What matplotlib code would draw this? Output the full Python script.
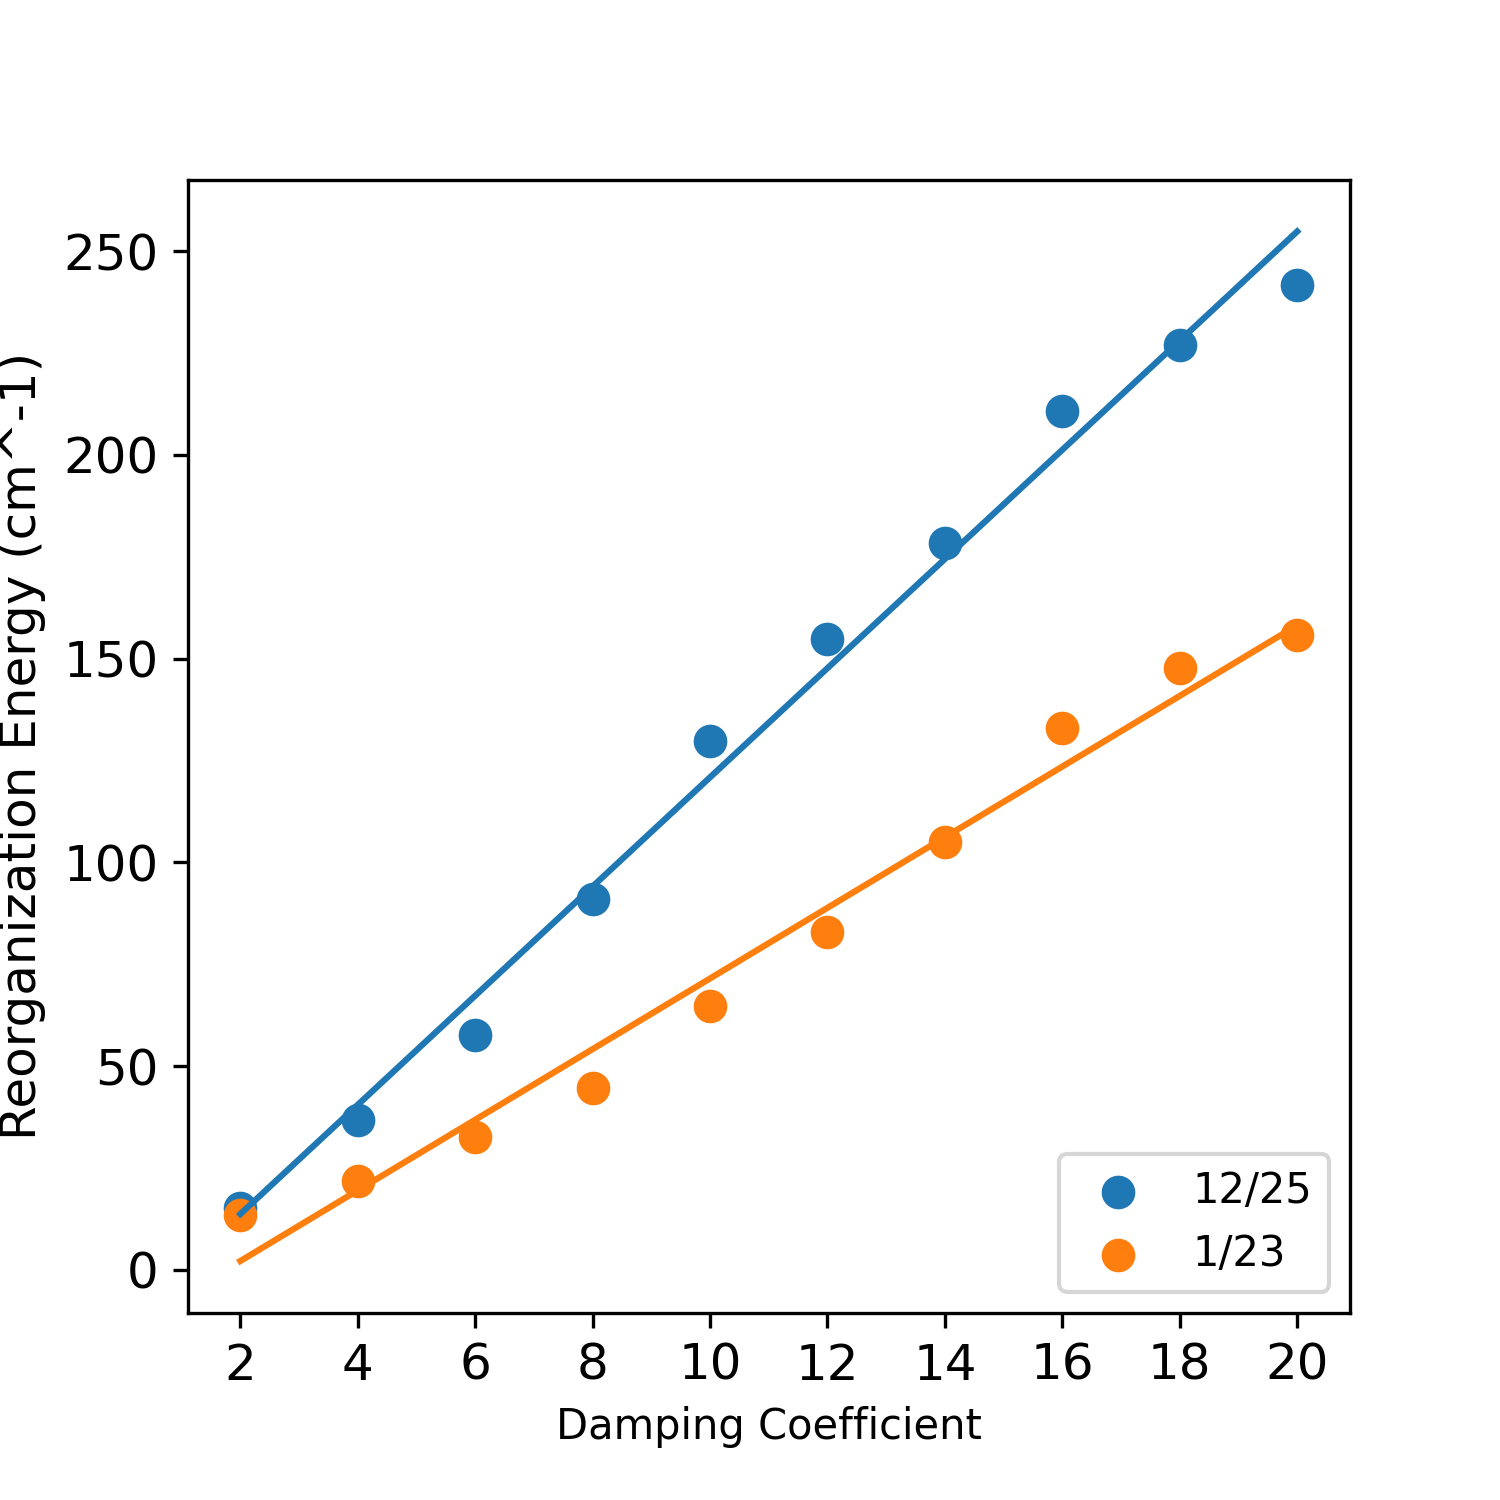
import numpy as np
import matplotlib
matplotlib.use('Agg')
import matplotlib.pyplot as plt

damping = [2, 4, 6, 8, 10, 12, 14, 16, 18, 20]
energy_1225 = [15.2, 36.8, 57.7, 90.9, 129.7, 154.7, 178.5, 210.7, 226.9, 241.6]
energy_0123 = [13.5, 21.9, 32.7, 44.7, 64.8, 82.8, 104.9, 132.9, 147.8, 155.7]

fig = plt.figure(figsize=(5, 5), dpi=300)
ax = fig.add_axes([0.125, 0.125, 0.775, 0.755])

x = np.array(damping)
# points first, fitted lines on top (default zorder)
for y, lab, c in [(energy_1225, '12/25', 'tab:blue'), (energy_0123, '1/23', 'tab:orange')]:
    ax.scatter(x, y, s=50, color=c, label=lab)
for y, c in [(energy_1225, 'tab:blue'), (energy_0123, 'tab:orange')]:
    m, b = np.polyfit(x, y, 1)
    ax.plot(x, m * x + b, color=c, lw=1.5)

ax.set_xticks(damping)
ax.tick_params(labelsize=12)
ax.set_xlabel('Damping Coefficient', fontsize=10)
ax.set_ylabel('Reorganization Energy (cm^-1)', fontsize=12)
ax.legend(loc='lower right')

fig.savefig('out.png', dpi=300)
